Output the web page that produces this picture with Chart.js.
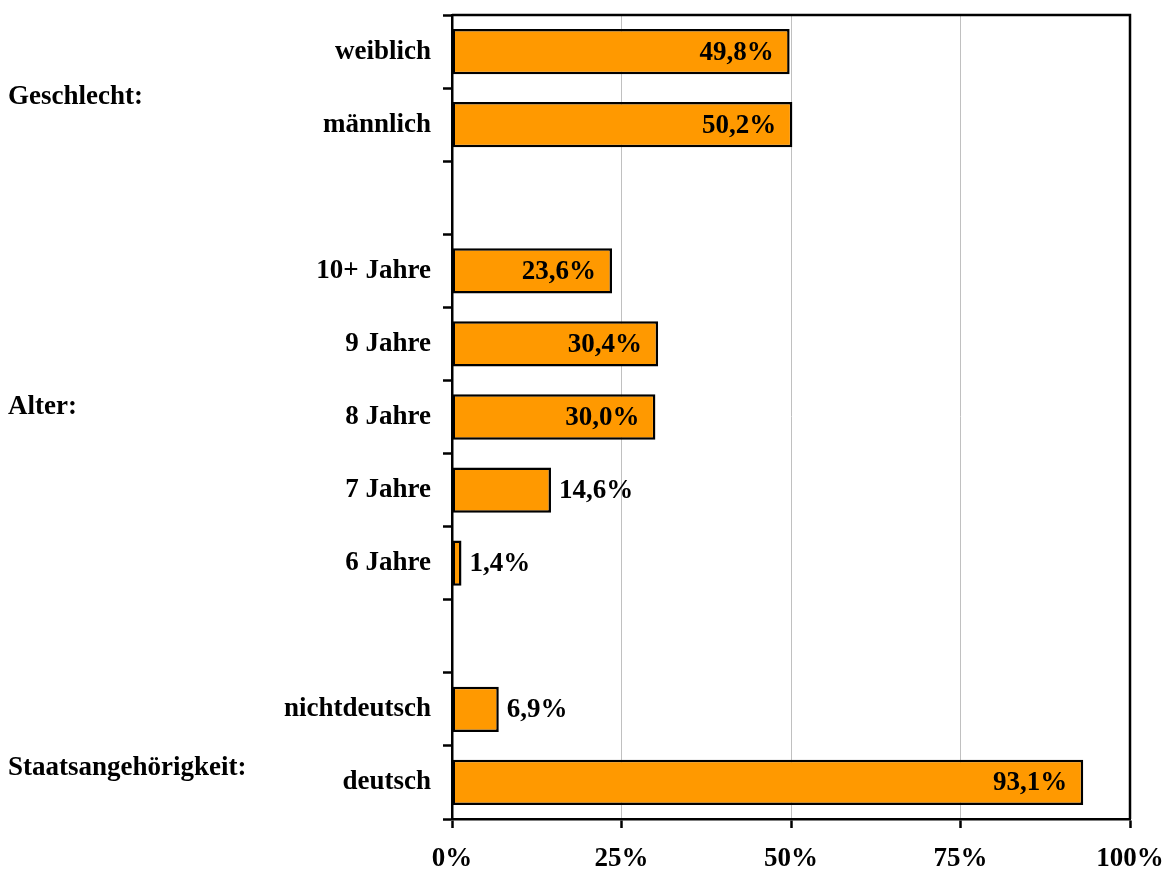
<!DOCTYPE html>
<html><head><meta charset="utf-8">
<script src="https://cdn.jsdelivr.net/npm/chart.js@4/dist/chart.umd.min.js"></script>
<style>html,body{margin:0;padding:0;background:#fff}#wrap{width:1171px;height:871px}</style>
</head><body><div id="wrap"><canvas id="c" width="1171" height="871"></canvas></div>
<script>
const categories = ["weiblich","männlich","","10+ Jahre","9 Jahre","8 Jahre","7 Jahre","6 Jahre","","nichtdeutsch","deutsch"];
const values = [49.8, 50.2, null, 23.6, 30.4, 30.0, 14.6, 1.4, null, 6.9, 93.1];
const xTicks = [0, 25, 50, 75, 100];
const groupLabels = ["Geschlecht:", "Alter:", "Staatsangehörigkeit:"];
const groupPositions = [0.62, 4.86, 9.8];

const FONT = '"Liberation Serif", "Times New Roman", serif';
const FS = 27;

const framePlugin = {
  id: 'frame',
  afterDraw(chart) {
    const {ctx, chartArea: a} = chart;
    ctx.save();
    ctx.strokeStyle = '#000'; ctx.lineWidth = 2.5;
    ctx.beginPath();
    ctx.moveTo(a.left, a.top); ctx.lineTo(a.right, a.top); ctx.lineTo(a.right, a.bottom);
    ctx.stroke();
    const meta = chart.getDatasetMeta(0);
    ctx.font = 'bold ' + FS + 'px ' + FONT;
    ctx.fillStyle = '#000';
    ctx.textBaseline = 'middle';
    meta.data.forEach((bar, i) => {
      const v = values[i];
      if (v === null || v === undefined) return;
      const txt = v.toFixed(1).replace('.', ',') + '%';
      if (v >= 20) { ctx.textAlign = 'right'; ctx.fillText(txt, bar.x - 16, bar.y + 1); }
      else { ctx.textAlign = 'left'; ctx.fillText(txt, bar.x + 8, bar.y + 1); }
    });
    const ys = chart.scales.y;
    ctx.textAlign = 'left';
    groupLabels.forEach((g, i) => {
      ctx.fillText(g, 8, ys.getPixelForValue(groupPositions[i]));
    });
    ctx.restore();
  }
};

new Chart(document.getElementById('c'), {
  type: 'bar',
  data: {
    labels: categories,
    datasets: [{
      data: values,
      backgroundColor: '#FF9900',
      borderColor: '#000',
      borderWidth: 2.5,
      borderSkipped: false,
      categoryPercentage: 0.62,
      barPercentage: 1.0
    }]
  },
  options: {
    indexAxis: 'y',
    responsive: false,
    animation: false,
    layout: { padding: { top: 15, right: 41, left: 0, bottom: 0 } },
    plugins: { legend: { display: false }, tooltip: { enabled: false } },
    scales: {
      x: {
        min: 0, max: 100,
        afterBuildTicks(s) { s.ticks = xTicks.map(v => ({value: v})); },
        afterFit(s) { s.height = 52; s.paddingLeft = 0; s.paddingRight = 0; },
        border: { display: true, color: '#000', width: 2.5 },
        grid: { color: '#c0c0c0', lineWidth: 1, tickLength: 9, tickColor: '#000', tickWidth: 2.5 },
        ticks: { color: '#000', font: { family: FONT, size: FS, weight: 'bold' }, padding: 15,
                 callback: v => v + '%' }
      },
      y: {
        afterFit(s) { s.width = 452; s.paddingTop = 0; s.paddingBottom = 0; },
        border: { display: true, color: '#000', width: 2.5 },
        grid: { display: true, drawOnChartArea: false, offset: true, tickLength: 9, tickColor: '#000', tickWidth: 2.5, color: '#000' },
        ticks: { color: '#000', font: { family: FONT, size: FS, weight: 'bold' }, padding: 12, autoSkip: false }
      }
    }
  },
  plugins: [framePlugin]
});
</script></body></html>
